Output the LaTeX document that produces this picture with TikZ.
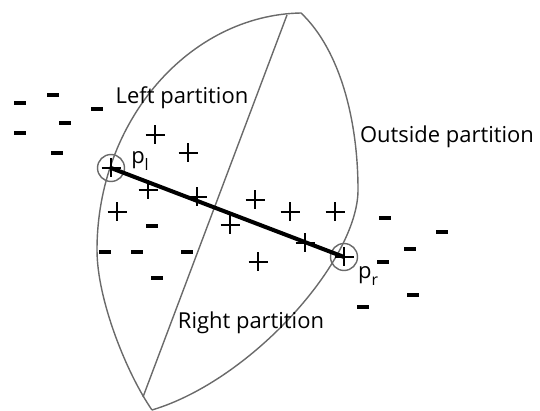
\documentclass[tikz,border=0pt]{standalone}
\usepackage{fontspec}
\setmainfont{Open Sans}
\usetikzlibrary{calc}
\definecolor{Rim}{HTML}{6A6A6A}
\tikzset{
rimline/.style={draw=Rim, line width=0.8pt},
endcircle/.style={circle, draw=Rim, line width=0.8pt, minimum size=0.54cm, inner sep=0pt},
chordline/.style={draw=black, line width=2.3pt},
parttext/.style={font=\fontsize{12.5pt}{15pt}\selectfont, inner sep=0pt},
plusmark/.pic={\draw[line width=1.4pt] (-9.5,0) -- (9.5,0) (0,-9.5) -- (0,9.5);},
minusmark/.pic={\draw[line width=2.1pt] (-6,0) -- (6,0);}
}

\begin{document}
\begin{tikzpicture}[x=0.02cm, y=-0.02cm]
  \useasboundingbox (0,0) rectangle (540,411);
  % lens outline
  \coordinate (top) at (301,13);
  \coordinate (bot) at (152,410);
  \coordinate (lmid) at (97,250);
  \coordinate (rmid) at (358,190);
  \coordinate (cuttop) at (287,15);
  \coordinate (cutbot) at (143,397);
  \draw[rimline] (top) .. controls (190,15) and (97,120) .. (lmid)
                       .. controls (97,300) and (127,374) .. (bot);
  \draw[rimline] (top) .. controls (340,50) and (358,120) .. (rmid)
                       .. controls (358,260) and (252,380) .. (bot);
  \draw[rimline] (cuttop) -- (cutbot);
  % end points
  \node[endcircle] (pl) at (111,168) {};
  \node[endcircle] (pr) at (344,257) {};
  \draw[chordline] (pl.center) -- (pr.center);
  \pic at (pl.center) {plusmark};
  \pic at (pr.center) {plusmark};
  % labels
  \node[parttext] (lefttxt) at (182,98) {Left partition};
  \node[parttext] (outtxt) at (447,137) {Outside partition};
  \node[parttext] (righttxt) at (251,323) {Right partition};
  \node[parttext] (pltxt) at (140,161) {p\raisebox{-0.55ex}{\fontsize{9pt}{10pt}\selectfont l}};
  \node[parttext] (prtxt) at (368,276) {p\raisebox{-0.55ex}{\fontsize{9pt}{10pt}\selectfont r}};
  % samples
  \foreach \px/\py in {155/135,188/153,148/190,197/197,117/212,255/200,290/212,335/212,230/225,305/243,258/262}
    \pic at (\px,\py) {plusmark};
  \foreach \mx/\my in {20/103,53/95,97/109,65/123,20/133,57/153,152/226,105/252,137/252,187/252,157/278,385/218,442/232,410/249,383/262,413/295,363/307}
    \pic at (\mx,\my) {minusmark};
\end{tikzpicture}
\end{document}
